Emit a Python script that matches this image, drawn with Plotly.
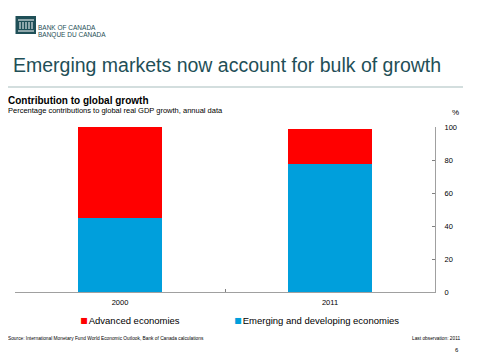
import plotly.graph_objects as go

years = ["2000", "2011"]
emerging = [45, 77.5]
advanced = [55, 21]
y_ticks = [0, 20, 40, 60, 80, 100]

OFF = 8  # page body margin in the browser
W, H = 480 - OFF, 360 - OFF
# plot area in screen pixels
L, R, T, B = 15, 435, 127, 292

def px(x):
    return (x - L) / (R - L)

def py(y):
    return (B - y) / (B - T)

FONT = "Liberation Sans, Arial, sans-serif"
TEAL = "#1f4f57"
RED = "#ff0000"
BLUE = "#009fdc"

fig = go.Figure()
fig.add_trace(go.Bar(x=years, y=emerging, name="Emerging and developing economies",
                     marker=dict(color=BLUE, line=dict(width=0)), width=0.4, showlegend=False))
fig.add_trace(go.Bar(x=years, y=advanced, name="Advanced economies",
                     marker=dict(color=RED, line=dict(width=0)), width=0.4, showlegend=False))

def leg_name(color, label):
    return (f'<span style="color:{color};font-size:12px;font-family:DejaVu Sans">▪</span>'
            f'<span style="font-size:2px"> </span>{label}')

# legend entries (symbol drawn as a small square glyph in the text)
fig.add_trace(go.Scatter(x=[None], y=[None], mode="markers",
                         marker=dict(color="rgba(0,0,0,0)", size=1),
                         name=leg_name(RED, "Advanced economies"), legend="legend"))
fig.add_trace(go.Scatter(x=[None], y=[None], mode="markers",
                         marker=dict(color="rgba(0,0,0,0)", size=1),
                         name=leg_name(BLUE, "Emerging and developing economies"), legend="legend2"))

leg_common = dict(orientation="h", yanchor="middle", font=dict(size=9.5, family=FONT),
                  itemwidth=30, bgcolor="rgba(0,0,0,0)")

fig.update_layout(
    width=W, height=H, barmode="stack",
    margin=dict(l=L - OFF, r=W - (R - OFF), t=T - OFF, b=H - (B - OFF), autoexpand=False),
    paper_bgcolor="white", plot_bgcolor="white",
    font=dict(family=FONT, color="black", size=8),
    showlegend=True,
    legend=dict(x=px(40), xanchor="left", y=py(320.5), **leg_common),
    legend2=dict(x=px(194), xanchor="left", y=py(320.5), **leg_common),
    xaxis=dict(type="category", range=[-0.5, 1.5], showline=True, linecolor="#a0a0a0",
               linewidth=1, ticks="inside", ticklen=3, tickcolor="#808080",
               tickson="boundaries", showgrid=False, tickfont=dict(size=7.5),
               ticklabelstandoff=3),
    yaxis=dict(side="right", range=[0, 100], tickvals=y_ticks, showline=True,
               linecolor="#a0a0a0", linewidth=1, ticks="inside", ticklen=3,
               tickcolor="#808080", showgrid=False, zeroline=False,
               tickfont=dict(size=7.5), ticklabelstandoff=7),
)

anns = [
    dict(x=px(11), y=py(65), text="Emerging markets now account for bulk of growth",
         font=dict(size=19.5, color=TEAL, family=FONT), xanchor="left", yanchor="middle"),
    dict(x=px(36), y=py(28), text="BANK OF CANADA", font=dict(size=6.5, color=TEAL, family=FONT),
         xanchor="left", yanchor="middle"),
    dict(x=px(36), y=py(34.5), text="BANQUE DU CANADA", font=dict(size=6.5, color=TEAL, family=FONT),
         xanchor="left", yanchor="middle"),
    dict(x=px(6), y=py(100), text="<b>Contribution to global growth</b>",
         font=dict(size=10, family=FONT), xanchor="left", yanchor="middle"),
    dict(x=px(6), y=py(110.5), text="Percentage contributions to global real GDP growth, annual data",
         font=dict(size=7.5, family=FONT), xanchor="left", yanchor="middle"),
    dict(x=px(455), y=py(113), text="%", font=dict(size=8, family=FONT),
         xanchor="center", yanchor="middle"),
    dict(x=px(6), y=py(338), text="Source: International Monetary Fund World Economic Outlook, Bank of Canada calculations",
         font=dict(size=4.8, family=FONT), xanchor="left", yanchor="middle"),
    dict(x=px(463), y=py(338), text="Last observation: 2011",
         font=dict(size=4.8, family=FONT), xanchor="right", yanchor="middle"),
    dict(x=px(457), y=py(350), text="6",
         font=dict(size=6, family=FONT), xanchor="center", yanchor="middle"),
]
for a in anns:
    a.update(xref="paper", yref="paper", showarrow=False)
    fig.add_annotation(**a)

shapes = [
    dict(type="line", x0=px(8), x1=px(463), y0=py(87), y1=py(87),
         line=dict(color="#c5d3d3", width=1.5)),
    dict(type="rect", x0=px(15.5), x1=px(36), y0=py(16), y1=py(34),
         fillcolor=TEAL, line=dict(width=0)),
]
# building hint in logo
for xx in [20, 23, 26, 29, 32]:
    shapes.append(dict(type="line", x0=px(xx), x1=px(xx), y0=py(22), y1=py(29),
                       line=dict(color="white", width=1)))
shapes.append(dict(type="line", x0=px(18), x1=px(34), y0=py(20), y1=py(20),
                   line=dict(color="white", width=1)))
shapes.append(dict(type="line", x0=px(18), x1=px(34), y0=py(31), y1=py(31),
                   line=dict(color="white", width=1)))
for s in shapes:
    s.update(xref="paper", yref="paper", layer="above")
    fig.add_shape(**s)

fig.write_html("out.html")
